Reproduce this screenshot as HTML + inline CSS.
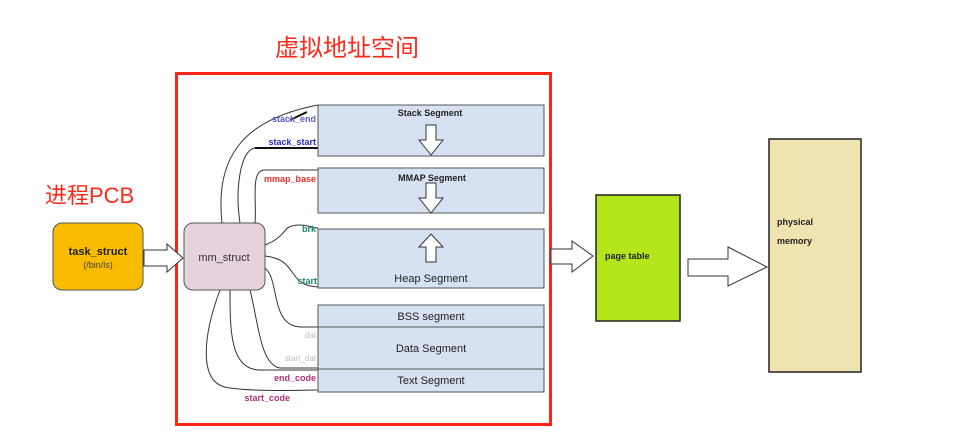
<!DOCTYPE html>
<html><head><meta charset="utf-8"><style>
body{margin:0;width:954px;height:442px;background:#fff;overflow:hidden;font-family:"Liberation Sans",Arial,sans-serif}
</style></head><body>
<svg width="954" height="442" viewBox="0 0 954 442" xmlns="http://www.w3.org/2000/svg" font-family="Liberation Sans, Arial, sans-serif">
<text x="275" y="56" font-size="24" fill="#ff2a1a" font-family="Liberation Sans, Noto Sans CJK SC, sans-serif">虚拟地址空间</text>
<text x="45" y="203" font-size="22" fill="#ff2a1a" font-family="Liberation Sans, Noto Sans CJK SC, sans-serif">进程PCB</text>
<rect x="176.5" y="73.5" width="374" height="351" fill="none" stroke="#ff2418" stroke-width="3"/>
<!-- task_struct -->
<rect x="53" y="223" width="90" height="67" rx="9" fill="#f9bc00" stroke="#555" stroke-width="1"/>
<text x="98" y="255" font-size="11" font-weight="bold" text-anchor="middle" fill="#222">task_struct</text>
<text x="98" y="268" font-size="9" text-anchor="middle" fill="#444">(/bin/ls)</text>
<path d="M144 250 H167 V244 L183 258 L167 272 V266 H144 Z" fill="#fff" stroke="#333" stroke-width="1"/>
<!-- mm_struct -->
<rect x="184" y="223" width="81" height="67" rx="9" fill="#e6d2dd" stroke="#555" stroke-width="1"/>
<text x="224" y="261" font-size="11" text-anchor="middle" fill="#333">mm_struct</text>
<!-- curves -->
<g fill="none" stroke="#333" stroke-width="1">
<path d="M222 223 C215 160 240 120 318 105"/>
<path d="M240 223 C235 190 240 150 255 148 H318"/>
<path d="M255 223 C257 200 250 170 265 170 H318"/>
<path d="M265 245 C290 235 280 225 300 225 C310 225 310 228 318 228"/>
<path d="M265 256 C300 260 285 285 318 287"/>
<path d="M265 268 C280 280 270 325 300 327 H318"/>
<path d="M250 290 C258 320 260 365 280 368 H318"/>
<path d="M230 290 C230 330 230 370 260 370 H318"/>
<path d="M220 290 C205 330 195 385 230 388 C260 392 300 390 318 390"/>
</g>
<line x1="255" y1="148" x2="318" y2="148" stroke="#111" stroke-width="2"/>
<path d="M290 120 L307 112" stroke="#111" stroke-width="2"/>
<g font-size="9" font-weight="bold">
<text x="316" y="122" fill="#5a5acc" text-anchor="end">stack_end</text>
<text x="316" y="145" fill="#2a2ab5" text-anchor="end">stack_start</text>
<text x="316" y="182" fill="#e8302a" text-anchor="end">mmap_base</text>
<text x="316" y="232" fill="#1a8a6a" text-anchor="end">brk</text>
<text x="336" y="284" fill="#1a8a6a" text-anchor="end">start_brk</text>
<text x="316" y="381" fill="#b0307a" text-anchor="end">end_code</text>
<text x="290" y="401" fill="#b0307a" text-anchor="end">start_code</text>
</g>
<g font-size="8" fill="#bbb"><text x="316" y="338" text-anchor="end">dat</text><text x="316" y="361" text-anchor="end">start_dat</text></g>
<!-- segments -->
<g fill="#d6e2f2" stroke="#555" stroke-width="1">
<rect x="318" y="105" width="226" height="51"/>
<rect x="318" y="168" width="226" height="45"/>
<rect x="318" y="229" width="226" height="59"/>
<rect x="318" y="305" width="226" height="22"/>
<rect x="318" y="327" width="226" height="42"/>
<rect x="318" y="369" width="226" height="23"/>
</g>
<g text-anchor="middle" fill="#222">
<text x="430" y="116" font-size="9" font-weight="bold">Stack Segment</text>
<text x="432" y="181" font-size="9" font-weight="bold">MMAP Segment</text>
<text x="431" y="282" font-size="11">Heap Segment</text>
<text x="431" y="320" font-size="11">BSS segment</text>
<text x="431" y="352" font-size="11">Data Segment</text>
<text x="431" y="384" font-size="11">Text Segment</text>
</g>
<g fill="#fff" stroke="#333" stroke-width="1">
<path d="M426 125 H436 V140 H443 L431 155 L419 140 H426 Z"/>
<path d="M426 183 H436 V198 H443 L431 213 L419 198 H426 Z"/>
<path d="M426 262 H436 V247 H443 L431 234 L419 247 H426 Z"/>
<path d="M551 249 H572 V241 L593 256 L572 272 V264 H551 Z"/>
<path d="M688 259 H728 V247 L767 267 L728 286 V276 H688 Z"/>
</g>
<rect x="596" y="195" width="84" height="126" fill="#b5e61d" stroke="#222" stroke-width="1.5"/>
<text x="605" y="259" font-size="9" font-weight="bold" fill="#222">page table</text>
<rect x="769" y="139" width="92" height="233" fill="#efe4b0" stroke="#222" stroke-width="1.5"/>
<text x="777" y="225" font-size="9" font-weight="bold" fill="#222">physical</text>
<text x="777" y="244" font-size="9" font-weight="bold" fill="#222">memory</text>
</svg>
</body></html>
